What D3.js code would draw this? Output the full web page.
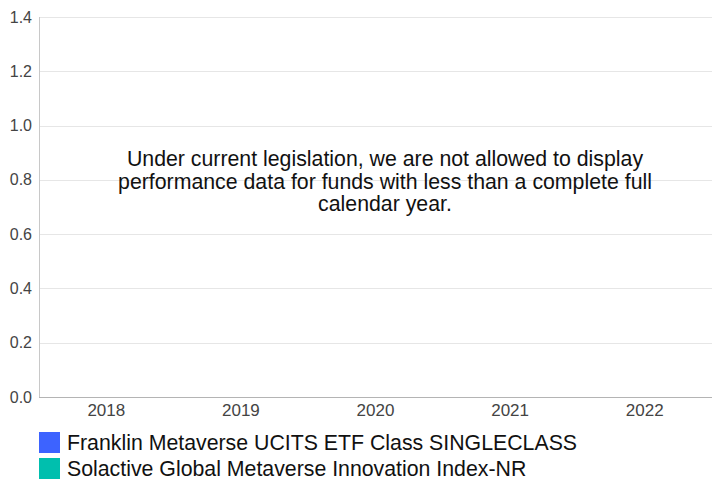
<!DOCTYPE html>
<html><head><meta charset="utf-8">
<script src="https://cdn.jsdelivr.net/npm/d3@7"></script>
<style>body{margin:0;background:#fff;font-family:"Liberation Sans",Arial,sans-serif;}</style>
</head><body><svg id="c" width="713" height="481"></svg>
<script>
const categories = ["2018","2019","2020","2021","2022"];
const yTicks = [0,0.2,0.4,0.6,0.8,1.0,1.2,1.4];
const seriesNames = ["Franklin Metaverse UCITS ETF Class SINGLECLASS","Solactive Global Metaverse Innovation Index-NR"];
const seriesColors = ["#3d63ff","#00bfae"];
const fundValues = [];
const indexValues = [];
const message = ["Under current legislation, we are not allowed to display","performance data for funds with less than a complete full","calendar year."];

const svg = d3.select("#c").attr("font-family","'Liberation Sans',Arial,sans-serif");
const m = {l:39, t:17, r:712, b:397};
const x = d3.scaleBand().domain(categories).range([m.l, m.r]);
const y = d3.scaleLinear().domain([0,1.4]).range([m.b, m.t]);

// gridlines
svg.append("g").selectAll("line").data(yTicks.filter(d=>d>0)).join("line")
  .attr("x1", m.l).attr("x2", m.r)
  .attr("y1", d=>Math.round(y(d))+0.5).attr("y2", d=>Math.round(y(d))+0.5)
  .attr("stroke", "#e6e6e6").attr("stroke-width", 1);

// y labels
svg.append("g").selectAll("text").data(yTicks).join("text")
  .attr("x", 32).attr("y", d=>y(d)+5.5)
  .attr("text-anchor","end").attr("font-size", 16).attr("fill","#444")
  .text(d=>d3.format(".1f")(d));

// axes lines
svg.append("line").attr("x1", m.l+0.5).attr("x2", m.l+0.5).attr("y1", m.t).attr("y2", m.b)
  .attr("stroke","#c8c8c8");
svg.append("line").attr("x1", m.l).attr("x2", m.r).attr("y1", m.b+0.5).attr("y2", m.b+0.5)
  .attr("stroke","#b4b4b4");

// x labels
svg.append("g").selectAll("text").data(categories).join("text")
  .attr("x", d=>x(d)+x.bandwidth()/2).attr("y", 416)
  .attr("text-anchor","middle").attr("font-size", 17).attr("fill","#444")
  .text(d=>d);

// message
svg.append("g").selectAll("text").data(message).join("text")
  .attr("x", 385).attr("y", (d,i)=>166+i*22.5)
  .attr("text-anchor","middle").attr("font-size", 21.3).attr("fill","#111")
  .text(d=>d);

// legend
const lg = svg.append("g").selectAll("g").data(seriesNames).join("g")
  .attr("transform",(d,i)=>`translate(39,${432+i*26})`);
lg.append("rect").attr("width",21).attr("height",21).attr("fill",(d,i)=>seriesColors[i]);
lg.append("text").attr("x",28).attr("y",17.5).attr("font-size",21.3).attr("fill","#111").text(d=>d);
</script></body></html>
